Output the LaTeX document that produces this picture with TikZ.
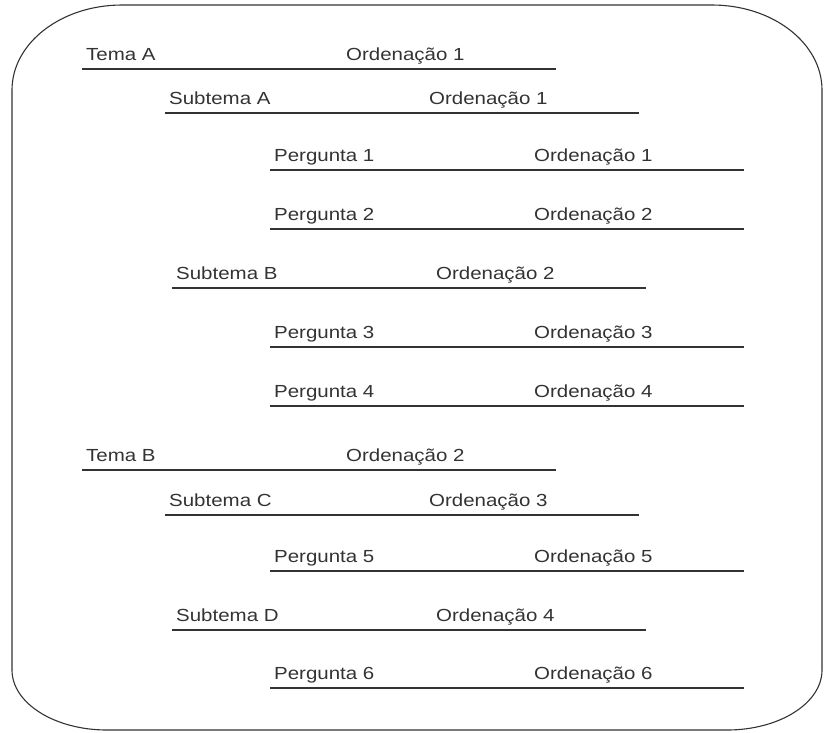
\documentclass[tikz,border=0pt]{standalone}
\usepackage{fontspec}
\setmainfont{Liberation Sans}[FakeStretch=1.17]
\usepackage{tikz}
\usepackage{xcolor}
\definecolor{inkgray}{HTML}{333333}

\begin{document}
\begin{tikzpicture}[x=1pt, y=-1pt,
	lbl/.style={anchor=base west, inner sep=0pt, text=inkgray, font=\fontsize{17.5}{20}\selectfont},
	uline/.style={draw=inkgray, line width=1.3pt},
	frame/.style={draw=inkgray, line width=1.1pt}]
	\useasboundingbox (0,0) rectangle (824,732);
	% Draw frame
	\draw[frame] (122,5) -- (712,5) arc[start angle=-90, end angle=0, x radius=110, y radius=85]
		-- (822,670) arc[start angle=0, end angle=90, x radius=95, y radius=60]
		-- (107,730) arc[start angle=90, end angle=180, x radius=95, y radius=60]
		-- (12,90) arc[start angle=180, end angle=270, x radius=110, y radius=85] -- cycle;
	% Draw rows
	\foreach \nm/\x/\y/\lab/\ord in {
		temaA/82/69/Tema A/Ordenação 1,
		subA/165/113/Subtema A/Ordenação 1,
		perg1/270/170/Pergunta 1/Ordenação 1,
		perg2/270/229/Pergunta 2/Ordenação 2,
		subB/172/288/Subtema B/Ordenação 2,
		perg3/270/347/Pergunta 3/Ordenação 3,
		perg4/270/406/Pergunta 4/Ordenação 4,
		temaB/82/470/Tema B/Ordenação 2,
		subC/165/515/Subtema C/Ordenação 3,
		perg5/270/571/Pergunta 5/Ordenação 5,
		subD/172/630/Subtema D/Ordenação 4,
		perg6/270/688/Pergunta 6/Ordenação 6}
	{
		\node[lbl] (\nm) at (\x+4,\y-9) {\lab};
		\node[lbl] (\nm-ord) at (\x+264,\y-9) {\ord};
		\coordinate (\nm-a) at (\x,\y);
		\coordinate (\nm-b) at (\x+474,\y);
		\draw[uline] (\nm-a) -- (\nm-b);
	}
\end{tikzpicture}
\end{document}
